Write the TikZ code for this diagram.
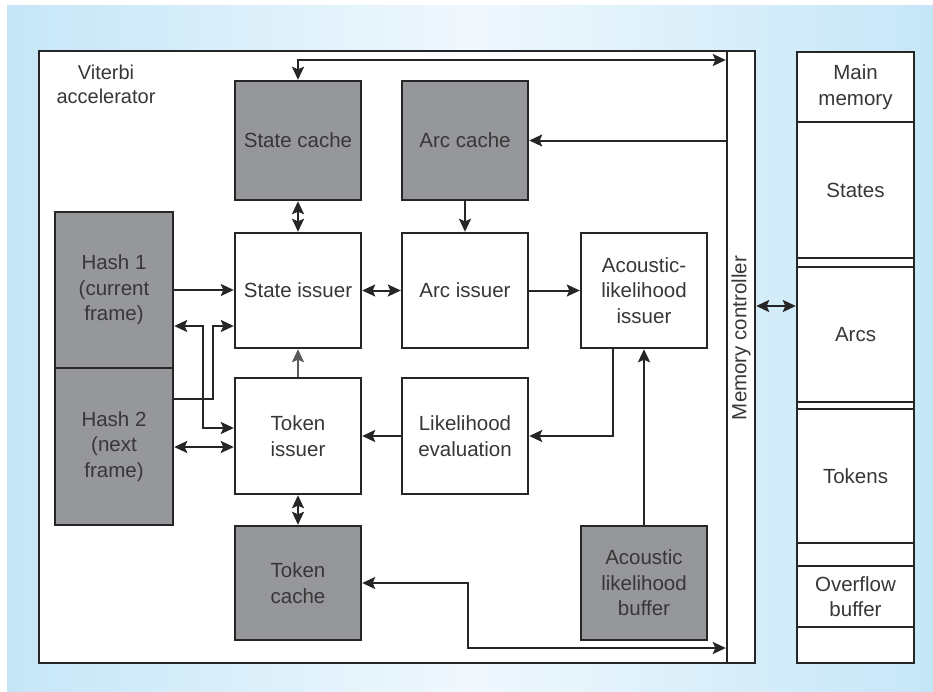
\documentclass[tikz,border=0pt]{standalone}
\usepackage{fontspec}
\setmainfont{Liberation Sans}
\usetikzlibrary{arrows.meta,calc}
\definecolor{bgedge}{RGB}{197,230,247}
\definecolor{bgmid}{RGB}{240,248,253}
\definecolor{boxfill}{RGB}{150,151,155}
\definecolor{ink}{RGB}{38,38,38}
\definecolor{txt}{RGB}{55,55,55}
\definecolor{grayarrow}{RGB}{90,90,90}
\begin{document}
\begin{tikzpicture}[x=1pt,y=-1pt,
  font=\fontsize{20.5}{25.5}\selectfont, text=txt,
  blk/.style={draw=ink, line width=2.4pt, fill=white, align=center, inner sep=0pt, minimum width=126},
  gbox/.style={blk, fill=boxfill},
  tip/.tip={Stealth[length=13pt,width=12pt,inset=2.5pt]},
  con/.style={draw=ink, line width=2pt, -tip},
  bicon/.style={draw=ink, line width=2pt, tip-tip},
  memcell/.style={draw=ink, line width=2.4pt, fill=white, minimum width=117, inner sep=0pt, align=center}
]
\useasboundingbox (0,0) rectangle (933,691);
\fill[white] (0,0) rectangle (933,691);
\shade[left color=bgedge, right color=bgedge, middle color=bgmid] (7,5) rectangle (933,691);

% containers
\node[draw=ink, line width=2.4pt, fill=white, minimum width=688, minimum height=612, inner sep=0pt] (acc) at (383,357) {};
\node[draw=ink, line width=2.4pt, fill=white, minimum width=28, minimum height=612, inner sep=0pt] (mc) at (741,357) {};
\node[rotate=90] (mclabel) at (741,338) {Memory controller};
\node[align=center, font=\fontsize{20}{24}\selectfont] (vlab) at (106,84) {Viterbi\\accelerator};

% main memory column
\node[memcell, minimum height=70]  (mmtop) at (855.5,87)   {Main\\memory};
\node[memcell, minimum height=136] (mmst)  at (855.5,190)  {States};
\node[memcell, minimum height=9]   (g1)    at (855.5,262.5) {};
\node[memcell, minimum height=135] (mmarc) at (855.5,334.5) {Arcs};
\node[memcell, minimum height=7]   (g2)    at (855.5,405.5) {};
\node[memcell, minimum height=134] (mmtok) at (855.5,476)  {Tokens};
\node[memcell, minimum height=23]  (g3)    at (855.5,554.5) {};
\node[memcell, minimum height=61]  (mmov)  at (855.5,596.5) {Overflow\\buffer};
\node[memcell, minimum height=36]  (g4)    at (855.5,645)  {};

% blocks
\node[gbox, minimum height=119] (sc) at (298,140.5) {State cache};
\node[gbox, minimum height=119] (ac) at (465,140.5) {Arc cache};
\node[gbox, minimum width=118, minimum height=156] (h1) at (114,290) {Hash 1\\(current\\frame)};
\node[gbox, minimum width=118, minimum height=157] (h2) at (114,446.5) {Hash 2\\(next\\frame)};
\node[blk, minimum height=115] (si)  at (298,290.5) {State issuer};
\node[blk, minimum height=115] (ai)  at (465,290.5) {Arc issuer};
\node[blk, minimum height=115] (ali) at (644,290.5) {Acoustic-\\likelihood\\issuer};
\node[blk, minimum height=116] (ti)  at (298,436) {Token\\issuer};
\node[blk, minimum height=116] (le)  at (465,436) {Likelihood\\evaluation};
\node[gbox, minimum height=114] (tc)  at (298,583) {Token\\cache};
\node[gbox, minimum height=114] (alb) at (644,583) {Acoustic\\likelihood\\buffer};

% connectors
\coordinate (topbend) at (298,60);
\draw[bicon] (sc.north) -- (topbend) -- (mc.west |- topbend);
\draw[con] (mc.west |- ac.east) -- (ac.east);
\draw[bicon] (sc.south) -- (si.north);
\draw[con] (ac.south) -- (ai.north);
\draw[con] (h1.east) -- (h1.east -| si.west);
\draw[bicon] (si.east) -- (ai.west);
\draw[con] (ai.east) -- (ai.east -| ali.west);
\coordinate (alibend) at (613,436);
\draw[con] (ali.south -| alibend) -- (alibend) -- (le.east);
\draw[con] (le.west) -- (ti.east);
\draw[draw=grayarrow, line width=2pt, -{Stealth[length=13pt,width=12pt,inset=2.5pt,fill=grayarrow]}] (ti.north) -- (si.south);
\draw[bicon] (ti.south) -- (tc.north);
\draw[con, line width=2.6pt] (alb.north) -- (ali.south -| alb.north);
\coordinate (tcb1) at (468,648);
\coordinate (tcb2) at (468,583);
\draw[bicon] (mc.west |- tcb1) -- (tcb1) -- (tcb2) -- (tc.east);
% hash links
\coordinate (h2a) at (213,399);
\coordinate (h2b) at (213,326);
\draw[con] (h2.east |- h2a) -- (h2a) -- (h2b) -- (si.west |- h2b);
\coordinate (h1a) at (203,326);
\coordinate (h1b) at (203,428);
\draw[bicon] (h1.east |- h1a) -- (h1a) -- (h1b) -- (ti.west |- h1b);
\coordinate (h2c) at (190,447);
\draw[bicon] (h2.east |- h2c) -- (ti.west |- h2c);
% memory controller to main memory
\coordinate (mmlink) at (776,306);
\draw[bicon] (mc.east |- mmlink) -- (mmarc.west |- mmlink);
\end{tikzpicture}
\end{document}
